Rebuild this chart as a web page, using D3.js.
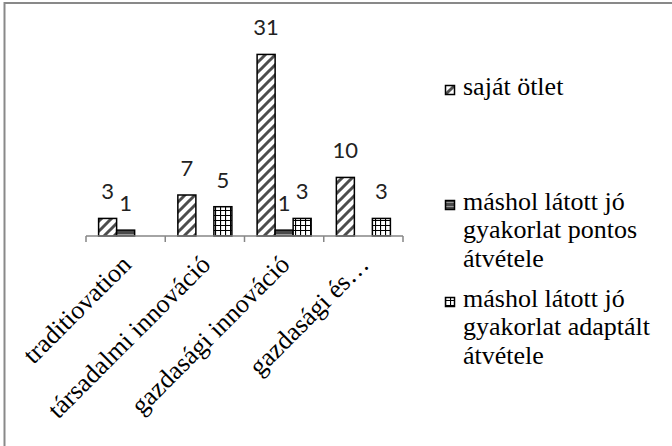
<!DOCTYPE html>
<html>
<head>
<meta charset="utf-8">
<script src="https://cdnjs.cloudflare.com/ajax/libs/d3/7.8.5/d3.min.js"></script>
<style>
  body { margin: 0; background: #fff; }
  svg { display: block; }
</style>
</head>
<body>
<svg id="chart" width="672" height="446"></svg>
<script>
// data
var categories = ["traditiovation", "társadalmi innováció", "gazdasági innováció", "gazdasági és…"];
var seriesNames = ["saját ötlet", "máshol látott jó gyakorlat pontos átvétele", "máshol látott jó gyakorlat adaptált átvétele"];
var sajatOtlet = [3, 7, 31, 10];
var pontosAtvetel = [1, null, 1, null];
var adaptaltAtvetel = [null, 5, 3, 3];
var legendLines = [["saját ötlet"], ["máshol látott jó", "gyakorlat pontos", "átvétele"], ["máshol látott jó", "gyakorlat adaptált", "átvétele"]];
var legendBaselines = [[94.5], [209.5, 238, 266.5], [306.5, 335, 363.5]];

var SERIF = "Liberation Serif, Times New Roman, serif";
var SANS = "Lato, Open Sans, sans-serif";
var PLOT_LEFT = 86, PLOT_RIGHT = 403, PLOT_TOP = 31, PLOT_BOTTOM = 236;

var svg = d3.select("#chart");
var defs = svg.append("defs");

// fill patterns (Excel style hatches)
var diag = defs.append("pattern")
    .attr("id", "pat_diag")
    .attr("patternUnits", "userSpaceOnUse")
    .attr("width", 10).attr("height", 10);
diag.append("rect").attr("width", 10).attr("height", 10).attr("fill", "#fff");
diag.append("path")
    .attr("d", "M-2,12 L12,-2 M-7,7 L7,-7 M3,17 L17,3")
    .attr("stroke", "#4d4d4d").attr("stroke-width", 3);

var horiz = defs.append("pattern")
    .attr("id", "pat_horiz")
    .attr("patternUnits", "userSpaceOnUse")
    .attr("width", 4).attr("height", 4);
horiz.append("rect").attr("width", 4).attr("height", 4).attr("fill", "#4a4a4a");
horiz.append("rect").attr("y", 2).attr("width", 4).attr("height", 1).attr("fill", "#9a9a9a");

var grid = defs.append("pattern")
    .attr("id", "pat_grid")
    .attr("patternUnits", "userSpaceOnUse")
    .attr("width", 5).attr("height", 5);
grid.append("rect").attr("width", 5).attr("height", 5).attr("fill", "#fff");
grid.append("path")
    .attr("d", "M0,0.5 H5 M0.5,0 V5")
    .attr("stroke", "#000").attr("stroke-width", 1.2);

var fills = ["url(#pat_diag)", "url(#pat_horiz)", "url(#pat_grid)"];

// chart area border (only left and top are visible)
svg.append("rect")
    .attr("x", 4.5).attr("y", 3)
    .attr("width", 720).attr("height", 520)
    .attr("fill", "none")
    .attr("stroke", "#898989")
    .attr("stroke-width", 2);

var x = d3.scaleBand()
    .domain(categories)
    .range([PLOT_LEFT, PLOT_RIGHT])
    .paddingInner(0).paddingOuter(0);

var x1 = d3.scaleBand()
    .domain(d3.range(seriesNames.length))
    .range([0, x.bandwidth()])
    .paddingInner(0).paddingOuter(0.7);

var y = d3.scaleLinear()
    .domain([0, 35])
    .range([PLOT_BOTTOM, PLOT_TOP]);

var allSeries = [sajatOtlet, pontosAtvetel, adaptaltAtvetel];
var barData = [];
categories.forEach(function(c, ci) {
  allSeries.forEach(function(s, si) {
    if (s[ci] != null) barData.push({cat: c, s: si, v: s[ci]});
  });
});

var g = svg.append("g");

g.selectAll(".bar")
  .data(barData)
  .enter().append("rect")
    .attr("class", "bar")
    .attr("x", function(d) { return x(d.cat) + x1(d.s); })
    .attr("y", function(d) { return y(d.v); })
    .attr("width", x1.bandwidth())
    .attr("height", function(d) { return y(0) - y(d.v); })
    .attr("fill", function(d) { return fills[d.s]; })
    .attr("stroke", "#000")
    .attr("stroke-width", 1.5);

// value labels
g.selectAll(".val")
  .data(barData)
  .enter().append("text")
    .attr("class", "val")
    .attr("x", function(d) { return x(d.cat) + x1(d.s) + x1.bandwidth() / 2; })
    .attr("y", function(d) { return y(d.v) - 19; })
    .attr("text-anchor", "middle")
    .attr("font-family", SANS)
    .attr("font-size", 22)
    .attr("fill", "#222")
    .text(function(d) { return d.v; });

// category axis
var xAxis = g.append("g")
    .attr("transform", "translate(0," + PLOT_BOTTOM + ")")
    .call(d3.axisBottom(x).tickSize(0).tickFormat(""));
xAxis.select(".domain").attr("stroke", "#868686").attr("stroke-width", 1.5).attr("d", "M" + PLOT_LEFT + ",0H" + PLOT_RIGHT);

xAxis.selectAll(".bound")
  .data(d3.range(categories.length + 1))
  .enter().append("line")
    .attr("class", "bound")
    .attr("x1", function(i) { return PLOT_LEFT + i * x.step(); })
    .attr("x2", function(i) { return PLOT_LEFT + i * x.step(); })
    .attr("y1", 0).attr("y2", 6)
    .attr("stroke", "#868686").attr("stroke-width", 1.5);

g.selectAll(".catlabel")
  .data(categories)
  .enter().append("text")
    .attr("class", "catlabel")
    .attr("transform", function(d) {
      return "translate(" + (x(d) + x.bandwidth() / 2 + 7) + "," + (PLOT_BOTTOM + 30) + ") rotate(-45)";
    })
    .attr("text-anchor", "end")
    .attr("font-family", SERIF)
    .attr("font-size", 26)
    .attr("fill", "#000")
    .text(function(d) { return d; });

// legend
var legend = svg.append("g");
legendLines.forEach(function(lines, i) {
  var base = legendBaselines[i];
  legend.append("rect")
      .attr("x", 445.5).attr("y", base[0] - 9)
      .attr("width", 9).attr("height", 9)
      .attr("fill", fills[i])
      .attr("stroke", "#000").attr("stroke-width", 1.5);
  var t = legend.append("text")
      .attr("font-family", SERIF)
      .attr("font-size", 26)
      .attr("fill", "#000");
  lines.forEach(function(line, j) {
    t.append("tspan").attr("x", 463).attr("y", base[j]).text(line);
  });
});
</script>
</body>
</html>
